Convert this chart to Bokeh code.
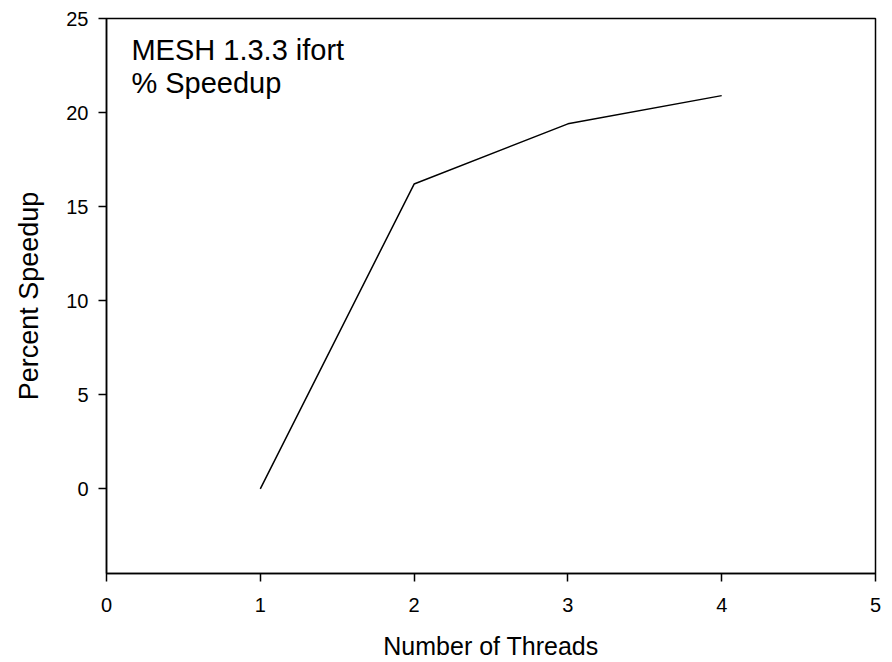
from bokeh.plotting import figure
from bokeh.models import Range1d, FixedTicker, Label
from bokeh.embed import file_html
from bokeh.resources import INLINE

threads = [1, 2, 3, 4]
speedup = [0.0, 16.2, 19.4, 20.9]
x_ticks = [0, 1, 2, 3, 4, 5]
y_ticks = [0, 5, 10, 15, 20, 25]
title_lines = ["MESH 1.3.3 ifort", "% Speedup"]
x_title = "Number of Threads"
y_title = "Percent Speedup"

FONT = "Liberation Sans"

p = figure(width=892, height=662, output_backend="svg", toolbar_location=None,
           x_range=Range1d(0, 5), y_range=Range1d(-4.5, 25),
           min_border_left=106, min_border_right=17, min_border_top=18, min_border_bottom=89)
p.background_fill_color = "white"
p.border_fill_color = "white"
p.outline_line_color = "black"
p.outline_line_width = 1.5
p.grid.visible = False

p.line(threads, speedup, line_color="black", line_width=1.5)

for ax in (p.xaxis[0], p.yaxis[0]):
    ax.axis_line_color = "black"
    ax.axis_line_width = 1.5
    ax.major_tick_line_color = "black"
    ax.major_tick_line_width = 1.5
    ax.major_tick_out = 8
    ax.major_tick_in = 0
    ax.minor_tick_line_color = None
    ax.major_label_text_font = FONT
    ax.major_label_text_font_size = "20px"
    ax.major_label_text_color = "black"
    ax.axis_label_text_font = FONT
    ax.axis_label_text_font_size = "27px"
    ax.axis_label_text_font_style = "normal"
    ax.axis_label_text_color = "black"

p.xaxis.ticker = FixedTicker(ticks=x_ticks)
p.yaxis.ticker = FixedTicker(ticks=y_ticks)
p.xaxis.axis_label = x_title
p.yaxis.axis_label = y_title
p.xaxis.axis_label_text_font_size = "25px"
p.xaxis.major_label_standoff = 16
p.yaxis.major_label_standoff = 10
p.xaxis.axis_label_standoff = 17
p.yaxis.axis_label_standoff = 19

p.add_layout(Label(x=0.162, y=23.3, text=title_lines[0], text_font=FONT,
                   text_font_size="29px", text_color="black", text_baseline="alphabetic"))
p.add_layout(Label(x=0.162, y=21.55, text=title_lines[1], text_font=FONT,
                   text_font_size="29px", text_color="black", text_baseline="alphabetic"))

open("out.html", "w").write(file_html(p, INLINE))
